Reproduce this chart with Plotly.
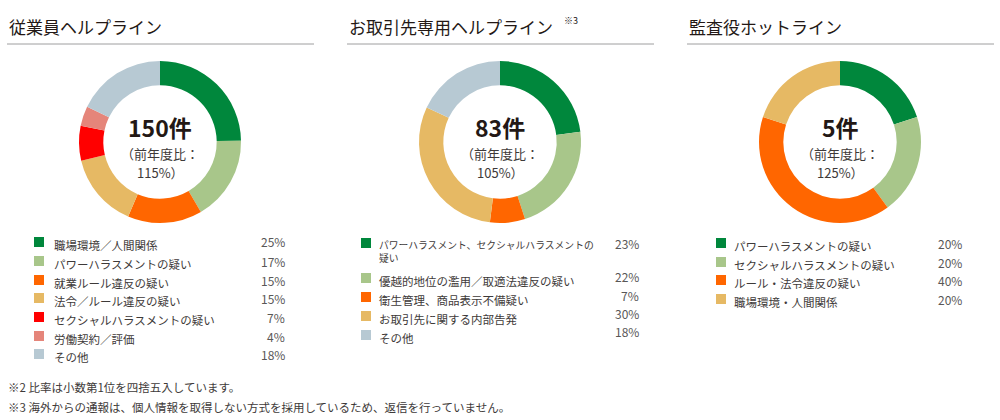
import plotly.graph_objects as go

W, H = 1000, 420
FONT = "Noto Sans CJK JP"

titles = ["従業員ヘルプライン", "お取引先専用ヘルプライン", "監査役ホットライン"]
totals = ["150件", "83件", "5件"]
yoy = ["115%）", "105%）", "125%）"]

labels1 = ["職場環境／人間関係", "パワーハラスメントの疑い", "就業ルール違反の疑い",
           "法令／ルール違反の疑い", "セクシャルハラスメントの疑い", "労働契約／評価", "その他"]
values1 = [25, 17, 15, 15, 7, 4, 18]
colors1 = ["#00873c", "#a8c68a", "#ff6600", "#e6b964", "#ff0000", "#e5857a", "#b7c9d3"]

labels2 = ["パワーハラスメント、セクシャルハラスメントの<br>疑い", "優越的地位の濫用／取適法違反の疑い",
           "衛生管理、商品表示不備疑い", "お取引先に関する内部告発", "その他"]
values2 = [23, 22, 7, 30, 18]
colors2 = ["#00873c", "#a8c68a", "#ff6600", "#e6b964", "#b7c9d3"]

labels3 = ["パワーハラスメントの疑い", "セクシャルハラスメントの疑い", "ルール・法令違反の疑い", "職場環境・人間関係"]
values3 = [20, 20, 40, 20]
colors3 = ["#00873c", "#a8c68a", "#ff6600", "#e6b964"]

footnotes = ["※2 比率は小数第1位を四捨五入しています。",
             "※3 海外からの通報は、個人情報を取得しない方式を採用しているため、返信を行っていません。"]


def px(x):
    return x / W


def py(y):
    return 1 - y / H


fig = go.Figure()
annotations = []
shapes = []

panels = [
    dict(left=7, cx=160, labels=labels1, values=values1, colors=colors1,
         sq_x=34, txt_x=52, pct_x=287, rows=[242, 261, 280, 298, 317, 336, 354],
         pct_rows=[242, 261, 280, 298, 317, 336, 354]),
    dict(left=347, cx=500, labels=labels2, values=values2, colors=colors2,
         sq_x=361, txt_x=377, pct_x=641, rows=[243, 278, 297, 316, 335],
         pct_rows=[243, 276, 295, 313, 331]),
    dict(left=687, cx=840, labels=labels3, values=values3, colors=colors3,
         sq_x=716, txt_x=732, pct_x=964, rows=[243, 262, 280, 299],
         pct_rows=[243, 262, 280, 299]),
]

CY, R = 142, 81
for i, p in enumerate(panels):
    fig.add_trace(go.Pie(
        labels=[l.replace("<br>", "") for l in p["labels"]], values=p["values"],
        marker=dict(colors=p["colors"], line=dict(width=0)),
        hole=0.7, sort=False, direction="clockwise", rotation=0,
        textinfo="none", hoverinfo="label+percent", showlegend=False,
        domain=dict(x=[px(p["cx"] - R), px(p["cx"] + R)], y=[py(CY + R), py(CY - R)]),
    ))
    # title
    annotations.append(dict(x=px(p["left"]), y=py(26), xref="paper", yref="paper",
                            text=titles[i], showarrow=False, xanchor="left", yanchor="middle",
                            font=dict(family=FONT, size=17, color="#231815")))
    shapes.append(dict(type="line", xref="paper", yref="paper",
                       x0=px(p["left"]), x1=px(p["left"] + 307), y0=py(44), y1=py(44),
                       line=dict(color="#9e9e9f", width=1)))
    # center text
    annotations.append(dict(x=px(p["cx"]), y=py(127), xref="paper", yref="paper",
                            text="<b>" + totals[i] + "</b>", showarrow=False,
                            xanchor="center", yanchor="middle",
                            font=dict(family=FONT, size=23, color="#231815")))
    annotations.append(dict(x=px(p["cx"]), y=py(153), xref="paper", yref="paper",
                            text="（前年度比：", showarrow=False, xanchor="center", yanchor="middle",
                            font=dict(family=FONT, size=13, color="#3e3a39")))
    annotations.append(dict(x=px(p["cx"]), y=py(172), xref="paper", yref="paper",
                            text=yoy[i], showarrow=False, xanchor="center", yanchor="middle",
                            font=dict(family=FONT, size=13, color="#3e3a39")))
    # legend
    for lab, val, col, ry, pry in zip(p["labels"], p["values"], p["colors"], p["rows"], p["pct_rows"]):
        shapes.append(dict(type="rect", xref="paper", yref="paper",
                           x0=px(p["sq_x"]), x1=px(p["sq_x"] + 10),
                           y0=py(ry + 5), y1=py(ry - 5),
                           fillcolor=col, line=dict(width=0)))
        fs = 9.8 if "<br>" in lab else 11.5
        annotations.append(dict(x=px(p["txt_x"]), y=py(ry - 7.5), xref="paper", yref="paper",
                                text=lab, showarrow=False, xanchor="left", yanchor="top",
                                align="left",
                                font=dict(family=FONT, size=fs, color="#3e3a39")))
        annotations.append(dict(x=px(p["pct_x"]), y=py(pry), xref="paper", yref="paper",
                                text=f"{val}%", showarrow=False, xanchor="right", yanchor="middle",
                                font=dict(family=FONT, size=12, color="#595757")))

# superscript on second title
annotations.append(dict(x=px(562), y=py(20), xref="paper", yref="paper", text="※3",
                        showarrow=False, xanchor="left", yanchor="middle",
                        font=dict(family=FONT, size=9, color="#231815")))

for j, fn in enumerate(footnotes):
    annotations.append(dict(x=px(6), y=py(387 + 20 * j), xref="paper", yref="paper", text=fn,
                            showarrow=False, xanchor="left", yanchor="middle",
                            font=dict(family=FONT, size=11.5, color="#3e3a39")))

fig.update_layout(width=W, height=H, margin=dict(l=0, r=0, t=0, b=0),
                  paper_bgcolor="white", plot_bgcolor="white",
                  annotations=annotations, shapes=shapes)

fig.write_html("out.html")
